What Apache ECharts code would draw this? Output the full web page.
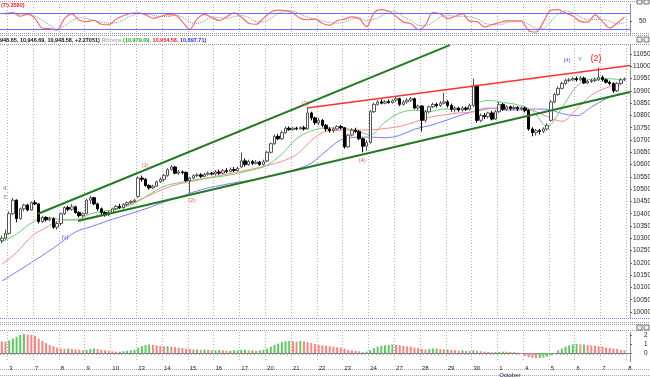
<!DOCTYPE html>
<html><head><meta charset="utf-8">
<script src="https://cdn.jsdelivr.net/npm/echarts@6/dist/echarts.min.js"></script>
<style>html,body{margin:0;padding:0;background:#fff}#c{width:650px;height:377px}</style>
</head><body><div id="c"></div>
<script>
// ---------- DATA ----------
const dayLabels = ['2','3','7','8','9','10','13','14','15','16','17','20','21','22','23','24','27','28','29','30','1','4','5','6','7','8'];
const monthAt = {20: 'October'};

const open = [10290,10300,10320,10400,10455,10380,10420,10435,10415,10445,
10440,10368,10385,10375,10380,10345,10360,10400,10425,10418,
10428,10405,10392,10400,10455,10465,10440,10420,10405,10395,
10405,10420,10430,10425,10438,10445,10450,10470,10545,10540,
10515,10505,10512,10530,10540,10555,10580,10590,10565,10570,
10568,10535,10545,10555,10558,10552,10560,10565,10562,10570,
10565,10575,10572,10580,10576,10590,10615,10600,10612,10605,
10610,10600,10615,10650,10685,10715,10705,10730,10748,10742,
10748,10745,10750,10745,10810,10790,10770,10780,10760,10745,
10738,10745,10755,10750,10672,10720,10740,10735,10705,10675,
10690,10815,10845,10855,10850,10856,10852,10862,10868,10845,
10855,10862,10868,10830,10838,10780,10815,10835,10845,10840,
10850,10855,10840,10825,10830,10822,10830,10825,10840,10920,
10780,10800,10795,10810,10785,10815,10845,10825,10835,10828,
10832,10826,10830,10820,10745,10730,10738,10735,10745,10780,
10855,10885,10910,10930,10942,10945,10950,10945,10952,10932,
10938,10942,10945,10955,10945,10935,10930,10900,10930,10945];
const close = [10300,10320,10400,10455,10380,10420,10435,10415,10445,10440,
10368,10385,10375,10380,10345,10360,10400,10425,10418,10428,
10405,10392,10400,10455,10465,10440,10420,10405,10395,10405,
10420,10430,10425,10438,10445,10450,10455,10545,10540,10515,
10505,10512,10530,10540,10555,10580,10590,10565,10570,10568,
10535,10545,10555,10558,10552,10560,10565,10562,10570,10565,
10575,10572,10580,10576,10585,10615,10600,10612,10605,10610,
10600,10612,10650,10685,10715,10705,10730,10748,10742,10748,
10745,10750,10745,10810,10790,10770,10780,10760,10745,10738,
10745,10755,10750,10672,10720,10740,10735,10705,10675,10690,
10815,10845,10855,10850,10856,10852,10860,10868,10845,10855,
10862,10868,10830,10838,10780,10815,10835,10845,10840,10850,
10855,10840,10825,10830,10822,10830,10825,10840,10920,10780,
10800,10795,10810,10785,10815,10845,10825,10835,10828,10832,
10826,10830,10820,10745,10730,10738,10735,10745,10760,10855,
10885,10910,10930,10942,10945,10950,10945,10952,10932,10938,
10942,10945,10955,10945,10935,10930,10900,10930,10945,10948.58];
const high = [10310,10335,10410,10465,10458,10425,10440,10440,10450,10455,
10442,10392,10390,10388,10385,10368,10405,10430,10432,10440,
10432,10410,10405,10462,10472,10468,10445,10425,10410,10412,
10425,10435,10440,10442,10450,10455,10460,10552,10555,10545,
10520,10518,10535,10548,10562,10585,10598,10595,10578,10576,
10572,10550,10560,10565,10565,10566,10572,10570,10578,10580,
10582,10585,10588,10590,10592,10650,10625,10620,10618,10618,
10615,10620,10655,10690,10722,10725,10738,10755,10755,10752,
10754,10756,10758,10830,10815,10795,10790,10785,10765,10752,
10752,10760,10762,10752,10725,10748,10750,10740,10710,10700,
10822,10852,10862,10865,10862,10865,10866,10875,10872,10862,
10870,10875,10872,10845,10842,10822,10840,10852,10852,10858,
10892,10862,10848,10838,10835,10838,10836,10848,10950,10925,
10808,10810,10815,10818,10822,10855,10850,10842,10840,10840,
10838,10836,10836,10825,10752,10745,10745,10752,10768,10862,
10892,10918,10938,10950,10952,10958,10958,10960,10958,10945,
10950,10955,10995,10962,10950,10942,10935,10935,10952,10955];
const low = [10280,10295,10315,10395,10365,10375,10410,10410,10412,10435,
10360,10362,10368,10370,10338,10335,10352,10395,10410,10412,
10400,10385,10385,10398,10440,10435,10412,10395,10388,10390,
10400,10415,10420,10420,10432,10440,10445,10465,10530,10510,
10498,10500,10508,10525,10530,10550,10575,10560,10558,10560,
10530,10485,10540,10548,10545,10548,10555,10556,10555,10558,
10560,10565,10568,10570,10572,10585,10592,10595,10598,10600,
10595,10596,10610,10645,10680,10700,10700,10725,10738,10738,
10740,10742,10738,10742,10780,10762,10760,10752,10735,10730,
10730,10740,10742,10665,10668,10715,10728,10700,10650,10655,
10685,10810,10840,10845,10845,10848,10848,10855,10838,10840,
10848,10855,10825,10822,10735,10770,10808,10830,10832,10835,
10845,10832,10815,10812,10815,10815,10818,10820,10835,10770,
10772,10785,10788,10780,10782,10810,10818,10818,10820,10822,
10818,10820,10812,10738,10715,10718,10722,10728,10738,10775,
10850,10880,10905,10925,10935,10940,10938,10940,10928,10928,
10932,10936,10940,10938,10930,10922,10892,10895,10925,10940];

// moving averages read every 4 bars (bar 0, 4, 8, ...)
const maStep = 4;
const maGreen = [10285,10317,10362,10385,10376,10374,10399,10411,10422,10442,10478,10511,10526,10537,10545,10553,10564,10578,10597,10643,10705,10737,10749,10749,10738,10722,10773,10810,10821,10816,10826,10823,10845,10861,10853,10843,10819,10755,10830,10918,10948,10950,10945];
const maRed = [10195,10242,10307,10344,10373,10377,10385,10401,10423,10448,10474,10501,10521,10533,10546,10558,10570,10582,10596,10613,10641,10698,10735,10739,10741,10741,10747,10755,10773,10792,10802,10810,10814,10826,10833,10832,10821,10796,10776,10826,10882,10912,10926];
const maBlue = [10126,10163,10201,10240,10282,10326,10346,10367,10387,10405,10425,10448,10466,10488,10505,10517,10528,10537,10551,10565,10581,10606,10655,10700,10711,10712,10709,10719,10744,10758,10777,10798,10816,10830,10823,10822,10826,10825,10808,10799,10834,10868,10890];

// stochastic read every 2 bars, starting at bar 1
const stochStep = 2, stochFirst = 1;
const stochK = [79,82,68,76,60,23,22,16,59,77,54,48,53,38,36,57,70,79,81,74,60,67,74,73,47,19,58,75,63,52,66,81,65,42,38,60,84,91,89,80,60,55,57,42,34,51,57,66,60,29,81,93,87,68,46,41,18,36,83,77,59,68,78,50,48,27,36,44,51,51,50,14,9,46,91,93,80,69,49,46,73,49,24,43,64];
const stochD = [75,78,76,75,68,53,35,20,32,51,63,60,52,46,42,44,54,69,77,78,72,67,67,71,65,46,41,51,65,63,60,66,71,63,48,47,61,78,88,87,76,65,57,51,44,42,47,58,61,52,57,68,87,83,67,52,35,32,46,65,73,68,68,65,59,42,37,36,44,49,51,38,24,23,49,77,88,81,66,55,56,56,49,39,44];
const stochLevels = [80, 20];
const stochTicks = [50];

const macdHist = [1.3,1.25,1.4,1.6,1.8,2.0,2.1,2.05,2.0,1.9,1.6,1.35,1.1,0.9,0.75,0.6,0.5,0.45,0.5,0.45,0.4,0.35,0.3,0.35,0.45,0.5,0.45,0.35,0.3,0.25,0.2,0.15,0.15,0.2,0.25,0.3,0.35,0.55,0.75,0.9,0.95,0.9,0.85,0.8,0.75,0.75,0.7,0.65,0.6,0.55,0.5,0.45,0.4,0.4,0.35,0.4,0.35,0.3,0.3,0.35,0.3,0.25,0.25,0.3,0.3,0.35,0.35,0.3,0.3,0.25,0.3,0.35,0.5,0.7,0.9,1.05,1.2,1.3,1.35,1.3,1.25,1.35,1.3,1.2,1.1,1.0,0.9,0.85,0.8,0.75,0.7,0.65,0.6,0.5,0.35,0.3,0.25,0.2,0.1,0.15,0.3,0.55,0.7,0.8,0.85,0.9,0.95,0.9,0.85,0.8,0.75,0.7,0.6,0.55,0.45,0.4,0.45,0.5,0.5,0.45,0.4,0.4,0.35,0.3,0.25,0.3,0.25,0.2,0.3,0.25,0.2,0.15,0.1,0.08,0.1,0.12,0.15,0.15,0.12,0.1,0.05,-0.1,-0.3,-0.45,-0.55,-0.6,-0.55,-0.5,-0.4,-0.25,-0.1,0.3,0.5,0.7,0.85,0.95,1.0,0.95,0.95,0.9,0.85,0.8,0.75,0.7,0.6,0.55,0.5,0.45,0.35,0.3];
const macdTicks = [0, 1, 2];

const priceTicks = [10000,10050,10100,10150,10200,10250,10300,10350,10400,10450,10500,10550,10600,10650,10700,10750,10800,10850,10900,10950,11000,11050];

// trend lines (bar index, price)
const trendX = [[9.68, 121.6], [20.67, 170.5], [82.8, 170.5]];
const trendY = [[10399, 11086], [10370, 10895], [10830, 11003]];

// wave labels (bar index, price)
const waveText = ['(1)', '(2)', '(3)', '(4)', '[v]', '4', '5', '[4]', 'Y', '(2)'];
const waveK = [38.9, 51.6, 82.3, 97.8, 17.1, 0.8, 0.9, 153.4, 156.9, 161.3];
const waveV = [10598, 10456, 10850, 10619, 10305, 10505, 10468, 11026, 11028, 11030];

const headerParts = ['948.65, 10,946.69, 10,948.58, +2.27051)', 'Ribbons', '(10,979.09,', '10,954.58,', '10,897.71)'];
const stochHeader = '(75.3580)';

// ---------- BUILD ----------
const cats = [], dayStartText = {};
dayLabels.forEach((d, di) => {
  const n = di === 0 ? 2 : (di === dayLabels.length - 1 ? 1 : 7);
  for (let h = 0; h < n; h++) {
    if (h === 0 && di > 0) dayStartText[cats.length] = monthAt[di] ? d + '\n' + monthAt[di] : d;
    cats.push(d + '/' + di + '/' + h);
  }
});
const N = cats.length;
const FONT = 'Liberation Sans, Arial, sans-serif';
const dayLine = (i) => i >= 2 && (i - 2) % 7 === 0;
const gridDots = {color: '#b4b4b4', width: 1, type: [1, 2]};

function catAxis(gi, labels) {
  return {
    type: 'category', gridIndex: gi, data: cats, boundaryGap: true,
    axisLine: {show: labels, lineStyle: {color: '#777', width: 1}},
    axisTick: {show: labels, interval: 0, length: 2, lineStyle: {color: '#999'}},
    axisLabel: {show: labels, interval: 0, formatter: (v, i) => dayStartText[i] || '',
      fontSize: 6, color: '#222', fontFamily: FONT, align: 'left', margin: 3, lineHeight: 7},
    splitLine: {show: true, interval: dayLine, lineStyle: gridDots}
  };
}
function valAxis(gi) { return {type: 'value', gridIndex: gi, min: -0.5, max: N - 0.5, show: false}; }
function rightAxis(gi, min, max, ticks, margin) {
  return {
    type: 'value', gridIndex: gi, position: 'right', min: min, max: max,
    splitLine: {show: false},
    axisLine: {show: true, onZero: false, lineStyle: {color: '#888', type: [1, 1]}},
    axisTick: {show: true, length: 2, customValues: ticks, lineStyle: {color: '#666'}},
    axisLabel: {show: true, customValues: ticks, formatter: (v) => String(v),
      fontSize: 6.5, color: '#222', fontFamily: FONT, margin: margin}
  };
}

const candleData = open.map((o, i) => [o, close[i], low[i], high[i]]);
const maSeries = (arr, color) => ({
  type: 'line', xAxisIndex: 4, yAxisIndex: 1, data: arr.map((v, j) => [j * maStep, v]),
  symbol: 'none', smooth: 0.35, lineStyle: {color: color, width: 1}, z: 3, silent: true
});
const trendColors = ['#237a23', '#237a23', '#ff3030'];
const trendWidths = [2, 2, 1.6];
function waveColor(t) { if (t === '4' || t === 'Y' || t[0] === '[') return '#3c3cf0'; return '#ff3030'; }

const lineG = (y, color, dash) => ({type: 'line', shape: {x1: 0, y1: y, x2: 650, y2: y}, style: {stroke: color, lineWidth: 1, lineDash: dash}, silent: true});

const option = {
  animation: false,
  backgroundColor: '#ffffff',
  grid: [
    {left: 0, width: 630, top: 4, height: 30.4, containLabel: false, outerBoundsMode: 'none'},
    {left: 0, width: 630, top: 45, height: 273, containLabel: false, outerBoundsMode: 'none'},
    {left: 0, width: 630, top: 332, height: 29.5, containLabel: false, outerBoundsMode: 'none'}
  ],
  xAxis: [catAxis(0, false), catAxis(1, false), catAxis(2, true), valAxis(0), valAxis(1)],
  yAxis: [
    rightAxis(0, 0, 114, stochTicks, 9),
    rightAxis(1, 9975.6, 11086.6, priceTicks, 3),
    rightAxis(2, -0.944, 2.333, macdTicks, 14)
  ],
  series: [
    {type: 'line', xAxisIndex: 3, yAxisIndex: 0, data: stochD.map((v, j) => [stochFirst + j * stochStep, v]),
     symbol: 'none', smooth: 0.3, lineStyle: {color: '#8a8a8a', width: 1, type: [1, 1]}, silent: true},
    {type: 'line', xAxisIndex: 3, yAxisIndex: 0, data: stochK.map((v, j) => [stochFirst + j * stochStep, v]),
     symbol: 'none', smooth: 0.3, lineStyle: {color: '#ff6a6a', width: 1.2}, silent: true,
     markLine: {silent: true, symbol: 'none', label: {show: false}, lineStyle: {color: '#6b6bff', width: 1, type: 'solid'},
       data: stochLevels.map(v => ({yAxis: v}))}},
    {type: 'candlestick', xAxisIndex: 1, yAxisIndex: 1, data: candleData, barWidth: 3, z: 4,
     itemStyle: {color: '#ffffff', color0: '#000000', borderColor: '#555555', borderColor0: '#000000', borderWidth: 1}},
    maSeries(maBlue, '#7b7bff'),
    maSeries(maRed, '#ff8a8a'),
    maSeries(maGreen, '#6fcf6f'),
    ...trendX.map((xs, i) => ({
      type: 'line', xAxisIndex: 4, yAxisIndex: 1, data: xs.map((x, j) => [x, trendY[i][j]]),
      symbol: 'none', lineStyle: {color: trendColors[i], width: trendWidths[i]}, z: 5, silent: true
    })),
    {type: 'scatter', xAxisIndex: 4, yAxisIndex: 1, symbolSize: 0, z: 6, silent: true,
     data: waveText.map((t, i) => ({value: [waveK[i], waveV[i]], name: t,
       label: {show: true, position: 'inside', formatter: t, color: waveColor(t), fontFamily: FONT,
         fontSize: (i === waveText.length - 1) ? 9 : 6, fontWeight: (i === waveText.length - 1) ? 'bold' : 'normal'}}))},
    {type: 'bar', xAxisIndex: 2, yAxisIndex: 2, barWidth: 2, silent: true,
     data: macdHist.map((v, i) => ({value: v, itemStyle: {color: (i > 0 && v >= macdHist[i - 1]) ? '#5fcb5f' : '#ff8282'}}))}
  ],
  graphic: [
    lineG(1.5, '#999', [1, 1]),
    lineG(33.5, '#999', [1, 1]),
    lineG(35.5, '#999', [1, 1]),
    lineG(44.5, '#999', [1, 1]),
    lineG(318.5, '#7d7dff', [1, 1]),
    lineG(322.5, '#999', [1, 1]),
    lineG(324.5, '#999', [1, 1]),
    lineG(330.5, '#999', [1, 1]),
    lineG(369.5, '#aaa', [1, 1]),
    lineG(375.5, '#9a9aff', [1, 1]),
    {type: 'text', x: 1, y: 2, silent: true, style: {text: stochHeader, fill: '#ff2020', font: 'bold 5.5px ' + FONT}},
    {type: 'text', x: 0, y: 37, silent: true, style: {
      text: '{k|' + headerParts[0] + '} {m|' + headerParts[1] + '} {g|' + headerParts[2] + '} {r|' + headerParts[3] + '} {b|' + headerParts[4] + '}',
      font: 'bold 5.5px ' + FONT,
      rich: {
        k: {fill: '#111', fontSize: 5.5, fontWeight: 'bold', fontFamily: FONT},
        m: {fill: '#999', fontSize: 5.5, fontFamily: FONT},
        g: {fill: '#22aa22', fontSize: 5.5, fontWeight: 'bold', fontFamily: FONT},
        r: {fill: '#ee2222', fontSize: 5.5, fontWeight: 'bold', fontFamily: FONT},
        b: {fill: '#2a2aee', fontSize: 5.5, fontWeight: 'bold', fontFamily: FONT}
      }}},
    {type: 'rect', shape: {x: 637, y: 0, width: 5, height: 4}, style: {fill: '#eee', stroke: '#777', lineWidth: 1}, silent: true},
    {type: 'rect', shape: {x: 644, y: 0, width: 5, height: 4}, style: {fill: '#eee', stroke: '#777', lineWidth: 1}, silent: true},
    {type: 'rect', shape: {x: 637, y: 37, width: 5, height: 5}, style: {fill: '#eee', stroke: '#777', lineWidth: 1}, silent: true},
    {type: 'rect', shape: {x: 644, y: 37, width: 5, height: 5}, style: {fill: '#eee', stroke: '#777', lineWidth: 1}, silent: true},
    {type: 'rect', shape: {x: 637, y: 325, width: 5, height: 5}, style: {fill: '#eee', stroke: '#777', lineWidth: 1}, silent: true},
    {type: 'rect', shape: {x: 644, y: 325, width: 5, height: 5}, style: {fill: '#eee', stroke: '#777', lineWidth: 1}, silent: true}
  ]
};
const chart = echarts.init(document.getElementById('c'), null, {renderer: 'canvas', width: 650, height: 377});
chart.setOption(option);
</script>
</body></html>
